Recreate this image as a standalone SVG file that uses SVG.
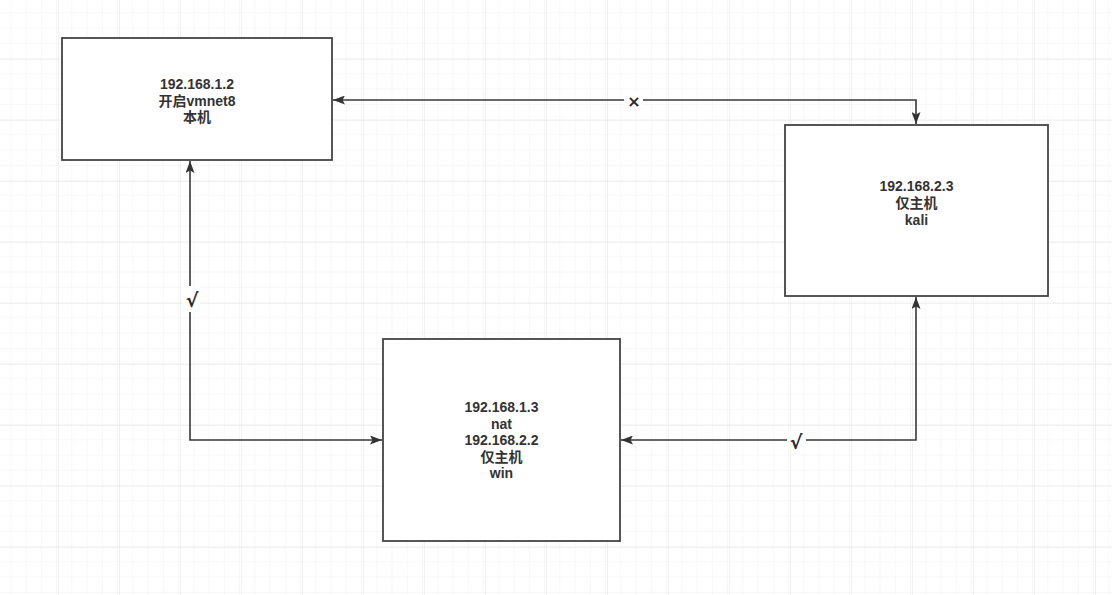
<svg xmlns="http://www.w3.org/2000/svg" width="1112" height="595" viewBox="0 0 1112 595">
  <style>
    .box { fill: #ffffff; stroke: #444444; stroke-width: 1.8; }
    .lbl { font-family: "Liberation Sans", "Noto Sans CJK SC", sans-serif; font-size: 14px; font-weight: bold; fill: #333333; text-anchor: middle; }
    .edge { fill: none; stroke: #383838; stroke-width: 1.6; }
    .mark { font-family: "DejaVu Sans", "Liberation Sans", sans-serif; font-weight: bold; fill: #2a2a2a; text-anchor: middle; }
  </style>
  <defs>
    <pattern id="minor" width="15.25" height="15.25" patternUnits="userSpaceOnUse" x="-2" y="-1">
      <path d="M15.25 0 V15.25 M0 15.25 H15.25" fill="none" stroke="#f0f0f0" stroke-width="1"/>
    </pattern>
    <pattern id="major" width="61" height="61" patternUnits="userSpaceOnUse" x="-2" y="-1">
      <rect width="61" height="61" fill="url(#minor)"/>
      <path d="M61 0 V61 M0 61 H61" fill="none" stroke="#e4e4e4" stroke-width="1"/>
    </pattern>
    <marker id="arr" viewBox="0 0 12 9" markerWidth="12" markerHeight="9" refX="12" refY="4.5" orient="auto-start-reverse" markerUnits="userSpaceOnUse">
      <path d="M0 0 L12 4.5 L0 9 L2.5 4.5 Z" fill="#333333"/>
    </marker>
  </defs>
  <rect width="1112" height="595" fill="#ffffff"/>
  <rect width="1112" height="595" fill="url(#major)"/>

  <g id="connectors">
    <path class="edge" d="M333 100 H916 V124" marker-start="url(#arr)" marker-end="url(#arr)"/>
    <path class="edge" d="M190 161 V440 H382" marker-start="url(#arr)" marker-end="url(#arr)"/>
    <path class="edge" d="M621 440 H916 V297" marker-start="url(#arr)" marker-end="url(#arr)"/>
    <rect x="624" y="92" width="19" height="18" fill="#ffffff"/>
    <text class="mark" x="634" y="107" font-size="16">×</text>
    <rect x="182" y="286" width="18" height="26" fill="#ffffff"/>
    <text class="mark" x="192" y="307" font-size="19">√</text>
    <rect x="787" y="430" width="19" height="20" fill="#ffffff"/>
    <text class="mark" x="796" y="449" font-size="19">√</text>
  </g>

  <g id="node-host">
    <rect class="box" x="62" y="38" width="270" height="122"/>
    <text class="lbl" x="197" y="88.5">192.168.1.2</text>
    <text class="lbl" x="197" y="105.5">开启vmnet8</text>
    <text class="lbl" x="197" y="122">本机</text>
  </g>

  <g id="node-kali">
    <rect class="box" x="785" y="125" width="263" height="171"/>
    <text class="lbl" x="916.5" y="191">192.168.2.3</text>
    <text class="lbl" x="916.5" y="208">仅主机</text>
    <text class="lbl" x="916.5" y="225">kali</text>
  </g>

  <g id="node-win">
    <rect class="box" x="383" y="339" width="237" height="202"/>
    <text class="lbl" x="501.5" y="412">192.168.1.3</text>
    <text class="lbl" x="501.5" y="428.5">nat</text>
    <text class="lbl" x="501.5" y="445">192.168.2.2</text>
    <text class="lbl" x="501.5" y="461.5">仅主机</text>
    <text class="lbl" x="501.5" y="478">win</text>
  </g>
</svg>
